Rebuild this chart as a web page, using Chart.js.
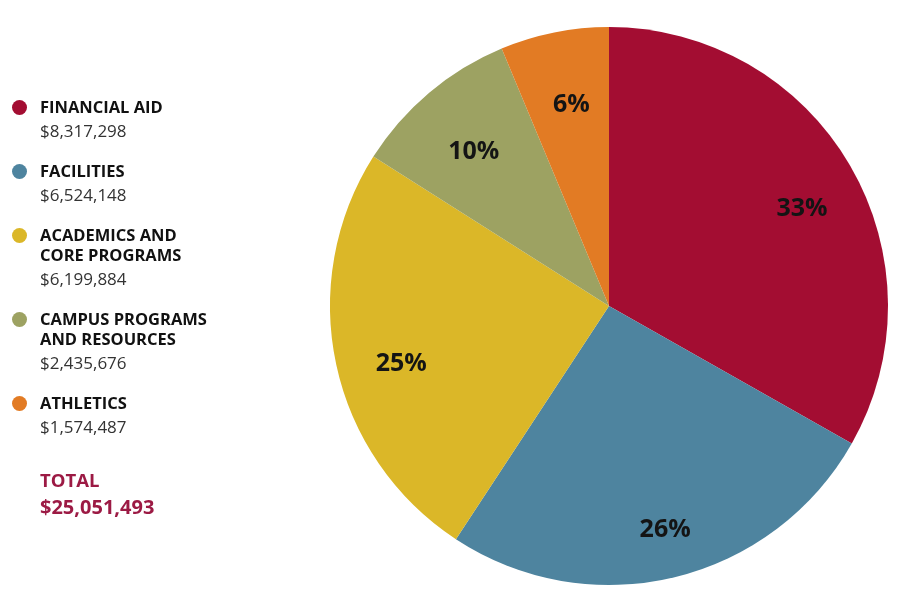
<!DOCTYPE html>
<html>
<head>
<meta charset="utf-8">
<script src="https://cdn.jsdelivr.net/npm/chart.js@4.4.0/dist/chart.umd.min.js"></script>
<style>
    html, body { margin: 0; padding: 0; background: #fff; }
    body { width: 900px; height: 612px; position: relative; overflow: hidden; font-family: "Open Sans", sans-serif; }
    #chart { position: absolute; left: 0; top: 0; }
    .legend { position: absolute; left: 0; top: 97px; width: 300px; }
    .item { position: relative; padding-left: 40px; margin-bottom: 18px; }
    .dot { position: absolute; left: 12px; top: 3px; width: 15px; height: 15px; border-radius: 50%; }
    .name { font-size: 16.5px; font-weight: 700; line-height: 20px; color: #111; }
    .amount { font-size: 17px; line-height: 24px; margin-top: 2px; color: #333; }
    .total { padding-left: 40px; margin-top: 27px; color: #9c1a44; font-weight: 700; font-size: 18.5px; line-height: 27px; }
    .total .sum { font-size: 20px; }
</style>
</head>
<body>
<canvas id="chart" width="900" height="612"></canvas>
<div class="legend" id="legend"></div>

<script>
// ---- data ----
const categories = ['FINANCIAL AID', 'FACILITIES', 'ACADEMICS AND<br>CORE PROGRAMS', 'CAMPUS PROGRAMS<br>AND RESOURCES', 'ATHLETICS'];
const amounts = [8317298, 6524148, 6199884, 2435676, 1574487];
const colors = ['#a30d32', '#4e849f', '#dbb728', '#9da262', '#e27b24'];
const totalLabel = 'TOTAL';

const total = amounts.reduce((a, b) => a + b, 0);
const fmt = (n) => '$' + n.toLocaleString('en-US');

// Legend
const legend = document.getElementById('legend');
categories.forEach((c, i) => {
    const el = document.createElement('div');
    el.className = 'item';
    el.innerHTML = `<span class="dot" style="background:${colors[i]}"></span>` +
        `<div class="name">${c}</div><div class="amount">${fmt(amounts[i])}</div>`;
    legend.appendChild(el);
});
const tot = document.createElement('div');
tot.className = 'total';
tot.innerHTML = `${totalLabel}<br><span class="sum">${fmt(total)}</span>`;
legend.appendChild(tot);

// Percent labels inside slices
const pctLabels = {
    id: 'pctLabels',
    afterDatasetsDraw(chart) {
        const ctx = chart.ctx;
        const meta = chart.getDatasetMeta(0);
        const size = 25;
        ctx.save();
        ctx.font = `bold ${size}px "Open Sans", sans-serif`;
        ctx.fillStyle = '#141414';
        ctx.textAlign = 'center';
        ctx.textBaseline = 'middle';
        meta.data.forEach((arc, i) => {
            const p = arc.getProps(['x', 'y', 'startAngle', 'endAngle', 'outerRadius'], true);
            const mid = (p.startAngle + p.endAngle) / 2;
            const r = p.outerRadius * 0.78;
            const pct = Math.round(amounts[i] / total * 100) + '%';
            ctx.fillText(pct, p.x + Math.cos(mid) * r + 5, p.y + Math.sin(mid) * r + 12);
        });
        ctx.restore();
    }
};

new Chart(document.getElementById('chart'), {
    type: 'pie',
    data: {
        labels: categories,
        datasets: [{
            data: amounts,
            backgroundColor: colors,
            borderWidth: 0
        }]
    },
    options: {
        responsive: false,
        animation: false,
        layout: { padding: { left: 330, right: 12, top: 27, bottom: 27 } },
        plugins: {
            legend: { display: false },
            tooltip: { enabled: false }
        }
    },
    plugins: [pctLabels]
});
</script>
</body>
</html>
